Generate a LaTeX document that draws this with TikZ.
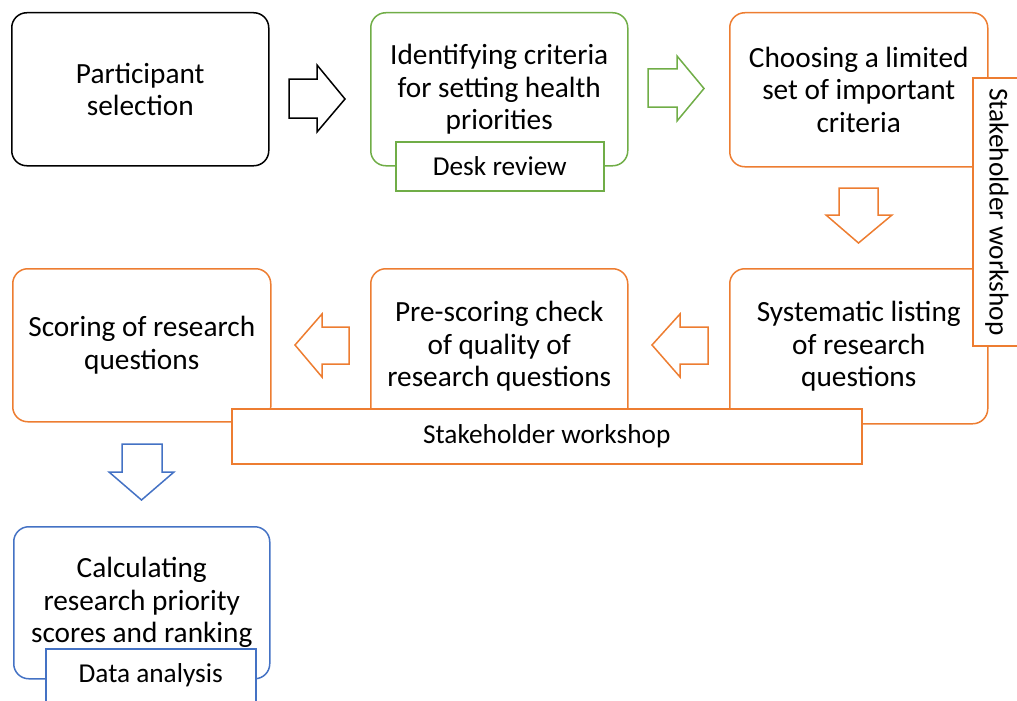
\documentclass[tikz,border=0pt]{standalone}
\usepackage{fontspec}
\setmainfont{Carlito}
\definecolor{orng}{HTML}{ED7D31}
\definecolor{grn}{HTML}{70AD47}
\definecolor{blu}{HTML}{4472C4}
\begin{document}
\begin{tikzpicture}[x=1pt,y=-1pt,line width=1.5pt,
  box/.style={draw,rounded corners=15pt,inner sep=0pt,anchor=north west,align=center,
              font=\fontsize{29.3}{32.5}\selectfont},
  sub/.style={draw,fill=white,inner sep=0pt,anchor=north west,
              font=\fontsize{27.3}{30}\selectfont},
  barrow/.style={draw,line join=miter}]
\useasboundingbox (0,0) rectangle (1017,701);

% main boxes
\node[box,minimum width=257pt,minimum height=153pt] (b1) at (11,12) {Participant\\selection};
\node[box,draw=grn,minimum width=257pt,minimum height=153pt] (b2) at (370,12) {Identifying criteria\\for setting health\\priorities};
\node[box,draw=orng,minimum width=258pt,minimum height=154pt] (b3) at (729,12) {Choosing a limited\\set of important\\criteria};
\node[box,draw=orng,minimum width=258pt,minimum height=155pt] (b4) at (729,268) {Systematic listing\\of research\\questions};
\node[box,draw=orng,minimum width=257pt,minimum height=155pt] (b5) at (370,268) {Pre-scoring check\\of quality of\\research questions};
\node[box,draw=orng,minimum width=258pt,minimum height=153pt] (b6) at (12,268) {Scoring of research\\questions};
\node[box,draw=blu,minimum width=256pt,minimum height=152pt] (b7) at (13,526) {Calculating\\research priority\\scores and ranking};

% sub boxes
\node[sub,draw=grn,minimum width=208pt,minimum height=49pt] (s2) at (395,141) {Desk review};
\node[sub,draw=orng,minimum width=630pt,minimum height=55pt] (sh) at (231,408) {Stakeholder workshop};
\node[sub,draw=orng,anchor=center,rotate=-90,minimum width=268pt,minimum height=48pt] (sv) at (997,212) {Stakeholder workshop};
\node[sub,draw=blu,minimum width=210pt,minimum height=53pt] (s7) at (45,648) {Data analysis};

% block arrows
\draw[barrow] (289,79) -- (317,79) -- (317,65) -- (345,99) -- (317,132) -- (317,118) -- (289,118) -- cycle;
\draw[barrow,draw=grn] (648,69) -- (677,69) -- (677,56) -- (704,88.5) -- (677,121) -- (677,107) -- (648,107) -- cycle;
\draw[barrow,draw=orng] (839,188) -- (878,188) -- (878,215) -- (892,215) -- (858.5,243) -- (826,215) -- (839,215) -- cycle;
\draw[barrow,draw=orng] (708,327) -- (680,327) -- (680,314) -- (652,345) -- (680,377) -- (680,364) -- (708,364) -- cycle;
\draw[barrow,draw=orng] (349,327) -- (322,327) -- (322,314) -- (295,345) -- (322,377) -- (322,364) -- (349,364) -- cycle;
\draw[barrow,draw=blu] (122,444) -- (162,444) -- (162,472) -- (174,472) -- (141.5,500) -- (109,472) -- (122,472) -- cycle;
\end{tikzpicture}
\end{document}
